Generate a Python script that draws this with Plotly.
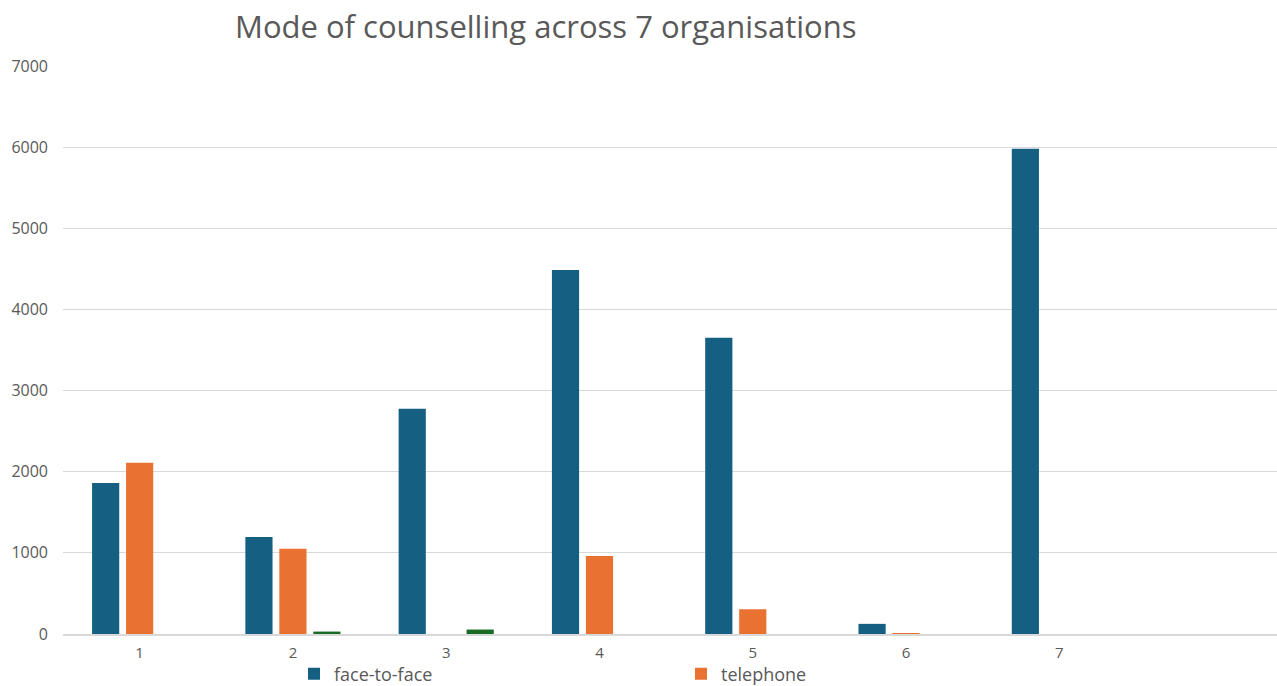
import plotly.graph_objects as go

categories = [1, 2, 3, 4, 5, 6, 7]
face_to_face = [1860, 1195, 2775, 4485, 3650, 125, 5980]
telephone = [2110, 1050, 0, 960, 305, 10, 0]
other = [0, 30, 55, 0, 0, 0, 0]
tick_labels = ["1", "2", "3", "4", "5", "6", "7"]

FONT = "Open Sans, Liberation Sans, sans-serif"
GREY = "#595959"

fig = go.Figure()
fig.add_trace(go.Bar(x=categories, y=face_to_face, name="face-to-face",
                     marker=dict(color="#156082", line=dict(width=0))))
fig.add_trace(go.Bar(x=categories, y=telephone, name="telephone",
                     marker=dict(color="#E97132", line=dict(width=0))))
fig.add_trace(go.Bar(x=categories, y=other, name="other", showlegend=False,
                     marker=dict(color="#196B24", line=dict(width=0))))

fig.update_layout(
    width=1277, height=686,
    paper_bgcolor="white", plot_bgcolor="white",
    margin=dict(l=63, r=0, t=66, b=52, autoexpand=False),
    barmode="group", bargap=0.335, bargroupgap=0.2,
    title=dict(text="Mode of counselling across 7 organisations",
               font=dict(family=FONT, size=31, color=GREY),
               x=235/1277, xanchor="left", y=1-27/686, yanchor="middle"),
    font=dict(family=FONT, color=GREY),
    legend=dict(orientation="h", x=(294-63)/1214, xanchor="left",
                y=-0.038, yanchor="top",
                font=dict(family=FONT, size=18, color=GREY),
                entrywidth=342, entrywidthmode="pixels",
                tracegroupgap=0, itemsizing="constant",
                bgcolor="rgba(0,0,0,0)"),
    xaxis=dict(range=[0.5, 8.42], tickmode="array", tickvals=categories,
               ticktext=tick_labels, showgrid=False, zeroline=False,
               showline=True, linecolor="#d9d9d9", linewidth=1.5,
               ticks="", ticklabelstandoff=4,
               tickfont=dict(family=FONT, size=15, color=GREY)),
    yaxis=dict(range=[0, 7000], dtick=1000, showgrid=True,
               gridcolor="#d9d9d9", gridwidth=1, zeroline=False,
               showline=False, ticks="", ticklabelstandoff=14,
               tickfont=dict(family=FONT, size=16, color=GREY)),
)

fig.write_html("out.html")
